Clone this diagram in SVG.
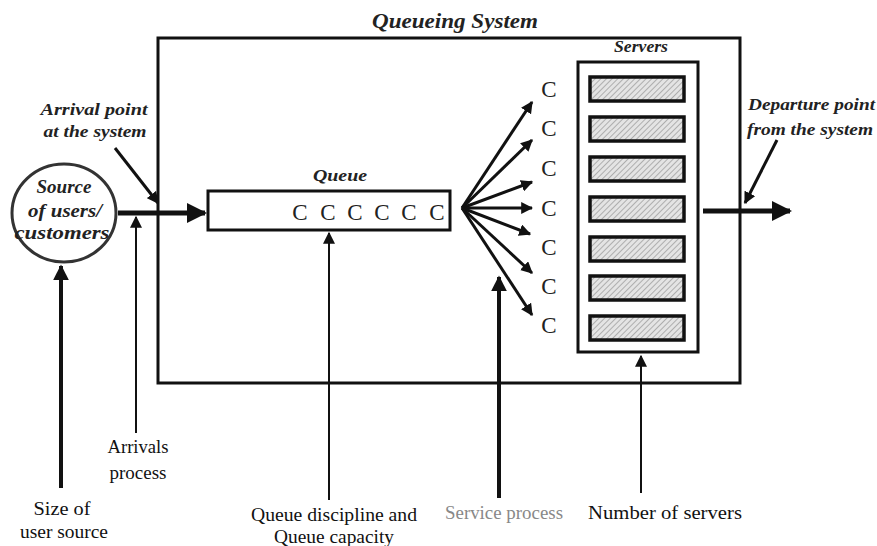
<svg xmlns="http://www.w3.org/2000/svg" width="877" height="546" viewBox="0 0 877 546">
<style>
.bi{font-family:"Liberation Serif",serif;font-weight:bold;font-style:italic;fill:#222}
.c{font-family:"Liberation Serif",serif;font-size:23px;fill:#222;text-anchor:middle}
.lbl{font-family:"Liberation Serif",serif;font-size:19px;fill:#111;text-anchor:middle}
.box{fill:none;stroke:#111;stroke-width:3}
.srv{fill:url(#hatch);stroke:#111;stroke-width:3.5}
.ln{stroke:#111;fill:none}
</style>
<defs>
<pattern id="hatch" width="4" height="4" patternUnits="userSpaceOnUse" patternTransform="rotate(45)">
<rect width="4" height="4" fill="#e4e4e4"/>
<line x1="0" y1="0" x2="0" y2="4" stroke="#8a8a8a" stroke-width="1.2"/>
</pattern>
<marker id="ah" viewBox="0 0 10 10" refX="9" refY="5" markerWidth="4" markerHeight="4" markerUnits="strokeWidth" orient="auto">
<path d="M0,0 L10,5 L0,10 z" fill="#111"/>
</marker>
<marker id="ahs" viewBox="0 0 10 10" refX="9" refY="5" markerWidth="6" markerHeight="6" markerUnits="strokeWidth" orient="auto">
<path d="M0,0 L10,5 L0,10 z" fill="#111"/>
</marker>
</defs>

<g id="system">
<rect class="box" x="158" y="38" width="582" height="345"/>
<text class="bi" x="455" y="28" font-size="22" text-anchor="middle" textLength="166" lengthAdjust="spacingAndGlyphs">Queueing System</text>
</g>

<g id="source">
<ellipse cx="64" cy="213" rx="52" ry="49" fill="none" stroke="#333" stroke-width="3"/>
<text class="bi" x="64" y="193" font-size="18" text-anchor="middle" textLength="55" lengthAdjust="spacingAndGlyphs">Source</text>
<text class="bi" x="65" y="217" font-size="18" text-anchor="middle" textLength="74" lengthAdjust="spacingAndGlyphs">of users/</text>
<text class="bi" x="62" y="239" font-size="18" text-anchor="middle" textLength="95" lengthAdjust="spacingAndGlyphs">customers</text>
</g>

<g id="queue">
<rect class="box" x="208" y="191" width="242" height="39"/>
<text class="bi" x="340" y="181" font-size="17" text-anchor="middle" textLength="54" lengthAdjust="spacingAndGlyphs">Queue</text>
<text class="c" x="300" y="220">C</text>
<text class="c" x="328" y="220">C</text>
<text class="c" x="355" y="220">C</text>
<text class="c" x="382" y="220">C</text>
<text class="c" x="409" y="220">C</text>
<text class="c" x="437" y="220">C</text>
</g>

<g id="customers-in-service">
<text class="c" x="549" y="97">C</text>
<text class="c" x="549" y="136">C</text>
<text class="c" x="549" y="176">C</text>
<text class="c" x="549" y="216">C</text>
<text class="c" x="549" y="255">C</text>
<text class="c" x="549" y="294">C</text>
<text class="c" x="549" y="333">C</text>
</g>

<g id="servers">
<rect class="box" x="578" y="62" width="120" height="290"/>
<text class="bi" x="641" y="52" font-size="17" text-anchor="middle" textLength="54" lengthAdjust="spacingAndGlyphs">Servers</text>
<rect class="srv" x="590" y="77" width="94" height="24"/>
<rect class="srv" x="590" y="117" width="94" height="24"/>
<rect class="srv" x="590" y="157" width="94" height="24"/>
<rect class="srv" x="590" y="197" width="94" height="24"/>
<rect class="srv" x="590" y="237" width="94" height="24"/>
<rect class="srv" x="590" y="276" width="94" height="24"/>
<rect class="srv" x="590" y="316" width="94" height="24"/>
</g>

<g id="annotation-arrival">
<text class="bi" x="94" y="115" font-size="17" text-anchor="middle" textLength="107" lengthAdjust="spacingAndGlyphs">Arrival point</text>
<text class="bi" x="95" y="137" font-size="17" text-anchor="middle" textLength="103" lengthAdjust="spacingAndGlyphs">at the system</text>
</g>

<g id="annotation-departure">
<text class="bi" x="748" y="110" font-size="17" textLength="127" lengthAdjust="spacingAndGlyphs">Departure point</text>
<text class="bi" x="747" y="135" font-size="17" textLength="126" lengthAdjust="spacingAndGlyphs">from the system</text>
</g>

<g id="labels">
<text class="lbl" x="62" y="515" textLength="57" lengthAdjust="spacingAndGlyphs">Size of</text>
<text class="lbl" x="64" y="538" textLength="88" lengthAdjust="spacingAndGlyphs">user source</text>
<text class="lbl" x="138" y="453" font-size="17" textLength="61" lengthAdjust="spacingAndGlyphs">Arrivals</text>
<text class="lbl" x="138" y="479" font-size="17" textLength="57" lengthAdjust="spacingAndGlyphs">process</text>
<text class="lbl" x="334" y="521" textLength="166" lengthAdjust="spacingAndGlyphs">Queue discipline and</text>
<text class="lbl" x="334" y="543" textLength="120" lengthAdjust="spacingAndGlyphs">Queue capacity</text>
<text class="lbl" x="504" y="519" style="fill:#888" textLength="118" lengthAdjust="spacingAndGlyphs">Service process</text>
<text class="lbl" x="665" y="519" textLength="154" lengthAdjust="spacingAndGlyphs">Number of servers</text>
</g>

<g id="connectors">
<line class="ln" x1="118" y1="213" x2="205" y2="213" stroke-width="5" marker-end="url(#ah)"/>
<line class="ln" x1="703" y1="211" x2="790" y2="211" stroke-width="5" marker-end="url(#ah)"/>
<line class="ln" x1="115" y1="148" x2="158" y2="203" stroke-width="3" marker-end="url(#ah)"/>
<line class="ln" x1="777" y1="140" x2="745" y2="203" stroke-width="3" marker-end="url(#ah)"/>
<line class="ln" x1="462" y1="208" x2="532" y2="102" stroke-width="3" marker-end="url(#ah)"/>
<line class="ln" x1="462" y1="208" x2="532" y2="140" stroke-width="3" marker-end="url(#ah)"/>
<line class="ln" x1="462" y1="208" x2="532" y2="182" stroke-width="3" marker-end="url(#ah)"/>
<line class="ln" x1="462" y1="208" x2="532" y2="208" stroke-width="3" marker-end="url(#ah)"/>
<line class="ln" x1="462" y1="208" x2="530" y2="234" stroke-width="3" marker-end="url(#ah)"/>
<line class="ln" x1="462" y1="208" x2="532" y2="273" stroke-width="3" marker-end="url(#ah)"/>
<line class="ln" x1="462" y1="208" x2="532" y2="315" stroke-width="3" marker-end="url(#ah)"/>
<line class="ln" x1="61" y1="488" x2="61" y2="266" stroke-width="4" marker-end="url(#ah)"/>
<line class="ln" x1="136" y1="433" x2="136" y2="217" stroke-width="2" marker-end="url(#ahs)"/>
<line class="ln" x1="329" y1="500" x2="329" y2="233" stroke-width="2" marker-end="url(#ahs)"/>
<line class="ln" x1="499" y1="498" x2="499" y2="277" stroke-width="4" marker-end="url(#ah)"/>
<line class="ln" x1="641" y1="493" x2="641" y2="356" stroke-width="2" marker-end="url(#ahs)"/>
</g>
</svg>
